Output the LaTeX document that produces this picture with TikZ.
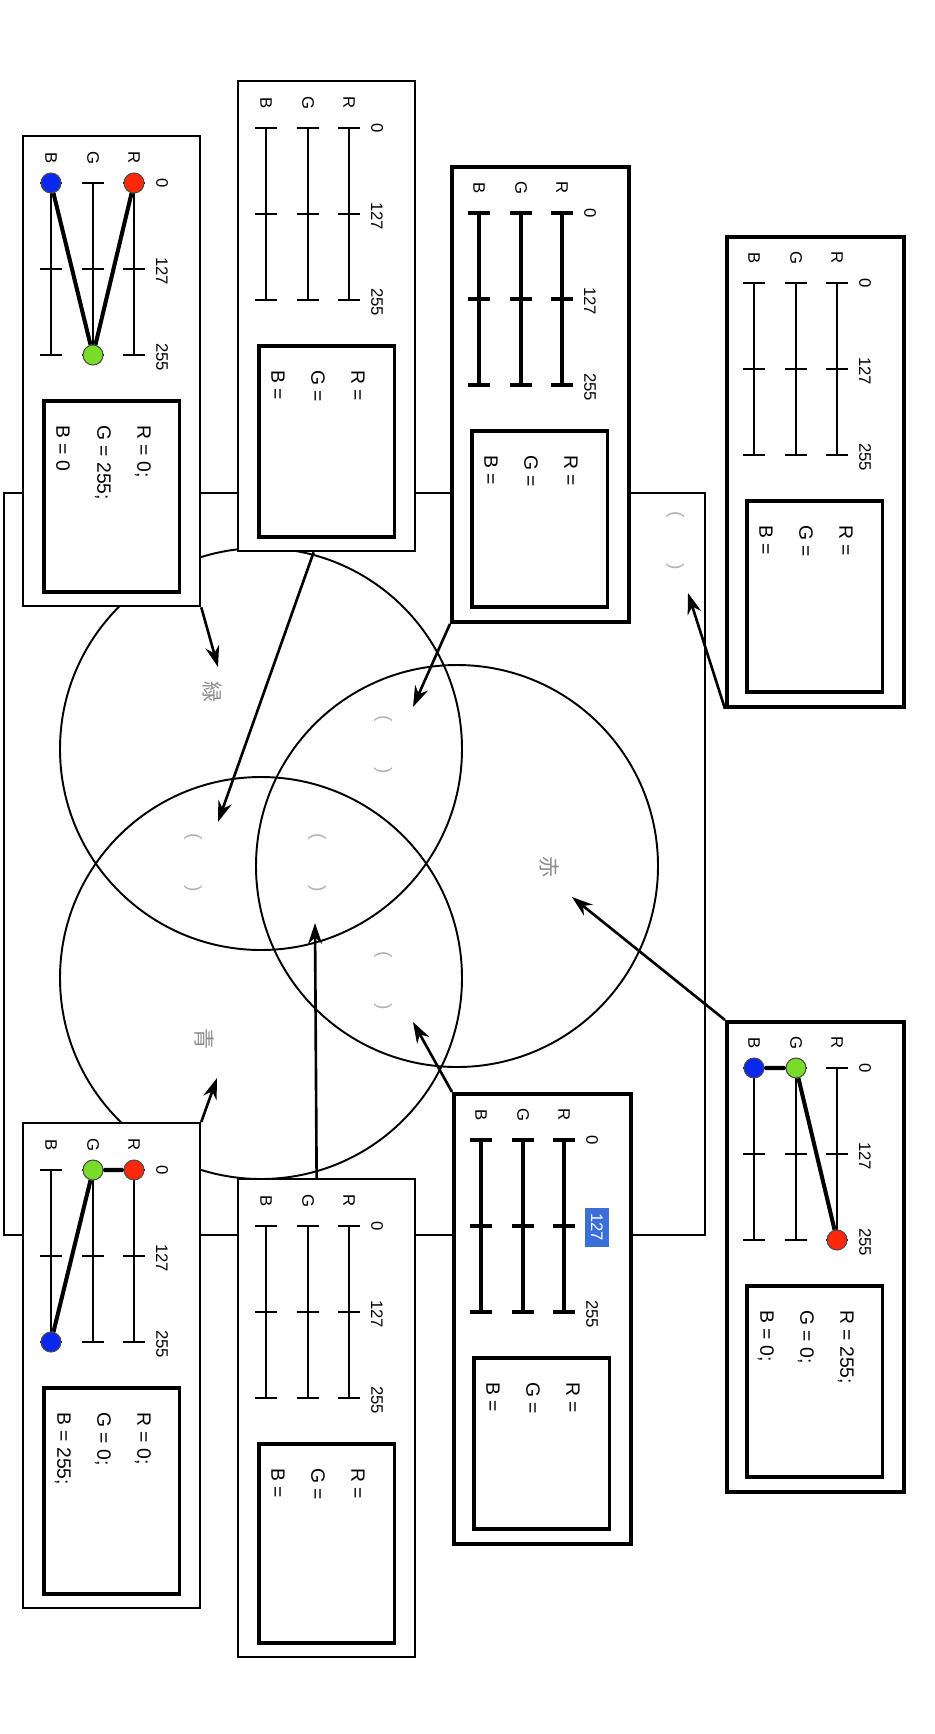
\documentclass[tikz,border=0pt]{standalone}
\usepackage{fontspec}
\setmainfont{Liberation Sans}
\newfontfamily\jpfont{Noto Sans CJK JP}
\usetikzlibrary{arrows.meta}

\definecolor{rcol}{RGB}{255,40,10}
\definecolor{gcol}{RGB}{120,220,40}
\definecolor{bcol}{RGB}{10,40,240}
\definecolor{hilite}{RGB}{58,110,216}

\begin{document}
\begin{tikzpicture}[x=0.02cm, y=-0.02cm,
        panel/.style={draw, fill=white, anchor=north west, inner sep=0pt, minimum width=3.54cm},
        valbox/.style={draw, line width=2pt, fill=white, anchor=north west, inner sep=0pt, minimum width=2.72cm},
        lbl/.style={rotate=-90, inner sep=1pt, font=\fontsize{9.5}{11}\selectfont},
        valtext/.style={rotate=-90, anchor=west, inner sep=0pt, font=\fontsize{11}{13}\selectfont},
        kanji/.style={rotate=-90, text=black!45, font=\jpfont\fontsize{12}{14}\selectfont},
        paren/.style={rotate=-90, text=black!30, font=\fontsize{11}{13}\selectfont},
        knob/.style={circle, draw=black!70, line width=0.6pt, minimum size=0.4cm, inner sep=0pt},
        link/.style={line width=2.3pt},
        pointer/.style={line width=1.5pt, -{Stealth[length=0.42cm, width=0.28cm]}}]
        \useasboundingbox (0,0) rectangle (934,1734);

        % frame and colour circles
        \draw[line width=1.1pt] (4,493) rectangle (705,1235);
        \draw[line width=1.1pt] (457,866) circle [radius=201];
        \draw[line width=1.1pt] (261,749) circle [radius=201];
        \draw[line width=1.1pt] (261,978) circle [radius=201];

        \node[kanji] (aka) at (549,867) {赤};
        \node[kanji] (midori) at (213,692) {緑};
        \node[kanji] (ao) at (204,1039) {青};

        \node[paren] (pOut) at (675,541) {(\hspace{26pt})};
        \node[paren] (pRG) at (383,745) {(\hspace{26pt})};
        \node[paren] (pGB) at (193,863) {(\hspace{26pt})};
        \node[paren] (pC) at (317,863) {(\hspace{26pt})};
        \node[paren] (pRB) at (383,981) {(\hspace{26pt})};

        % slider panels
        \foreach \pname/\px/\py/\ph/\ow/\bw/\rv/\gv/\bv in {
                p1/22/135/470/1.3pt/1.6pt/{0;}/{255;}/{0},
                p2/237/80/470/1.3pt/1.2pt/{}/{}/{},
                p3/450/165/455/2.2pt/2pt/{}/{}/{},
                p4/725/235/470/2.2pt/1pt/{}/{}/{},
                p5/237/1178/478/1.3pt/1.1pt/{}/{}/{},
                p6/452/1092/450/2.2pt/2pt/{}/{}/{},
                p7/725/1020/470/2.2pt/1.1pt/{255;}/{0;}/{0;},
                p8/22/1122/485/1.3pt/1.6pt/{0;}/{0;}/{255;}} {
                \node[panel, line width=\ow, minimum height=\ph*0.02cm] (\pname) at (\px,\py) {};
                \begin{scope}[shift={(\px,\py)}]
                        \foreach \bx/\bl in {29/B,71/G,112/R} {
                                \draw[line width=\bw] (\bx,48) -- (\bx,220);
                                \draw[line width=\bw] (\bx-11,48) -- (\bx+11,48) (\bx-11,134) -- (\bx+11,134) (\bx-11,220) -- (\bx+11,220);
                                \node[lbl] (\pname-\bl) at (\bx,23) {\bl};
                        }
                        \node[lbl] (\pname-lo) at (140,48) {0};
                        \node[lbl] (\pname-mid) at (140,136) {127};
                        \node[lbl] (\pname-hi) at (140,222) {255};
                        \node[valbox, minimum height=(\ph-279)*0.02cm] (\pname-box) at (20,264) {};
                        \node[valtext] (\pname-r) at (121,290) {R = \rv};
                        \node[valtext] (\pname-g) at (81,290) {G = \gv};
                        \node[valtext] (\pname-b) at (41,290) {B = \bv};
                \end{scope}
        }

        % selected value
        \node[lbl, fill=hilite, text=white, minimum width=0.78cm, minimum height=0.48cm] (p6-sel) at (597,1227) {127};

        % knobs
        \begin{scope}[shift={(22,135)}]
                \node[knob, fill=rcol] (p1-rk) at (112,48) {};
                \node[knob, fill=gcol] (p1-gk) at (71,220) {};
                \node[knob, fill=bcol] (p1-bk) at (29,48) {};
                \draw[link] (p1-rk) -- (p1-gk) -- (p1-bk);
        \end{scope}
        \begin{scope}[shift={(725,1020)}]
                \node[knob, fill=rcol] (p7-rk) at (112,220) {};
                \node[knob, fill=gcol] (p7-gk) at (71,48) {};
                \node[knob, fill=bcol] (p7-bk) at (29,48) {};
                \draw[link] (p7-bk) -- (p7-gk) -- (p7-rk);
        \end{scope}
        \begin{scope}[shift={(22,1122)}]
                \node[knob, fill=rcol] (p8-rk) at (112,48) {};
                \node[knob, fill=gcol] (p8-gk) at (71,48) {};
                \node[knob, fill=bcol] (p8-bk) at (29,220) {};
                \draw[link] (p8-rk) -- (p8-gk) -- (p8-bk);
        \end{scope}

        % pointers
        \coordinate (tG) at (218,667);
        \coordinate (tGB) at (218,822);
        \coordinate (tRG) at (413,707);
        \coordinate (tOut) at (688,593);
        \coordinate (tR) at (572,897);
        \coordinate (tRB) at (413,1022);
        \coordinate (tC) at (315,923);
        \coordinate (tB) at (217,1078);
        \draw[pointer] (p1.south east) -- (tG);
        \draw[pointer] ([xshift=-0.26cm]p2.south) -- (tGB);
        \draw[pointer] (p3.south west) -- (tRG);
        \draw[pointer] (p4.south west) -- (tOut);
        \draw[pointer] (p7.north west) -- (tR);
        \draw[pointer] (p6.north west) -- (tRB);
        \draw[pointer] ([xshift=-0.2cm]p5.north) -- (tC);
        \draw[pointer] (p8.north east) -- (tB);
\end{tikzpicture}
\end{document}
